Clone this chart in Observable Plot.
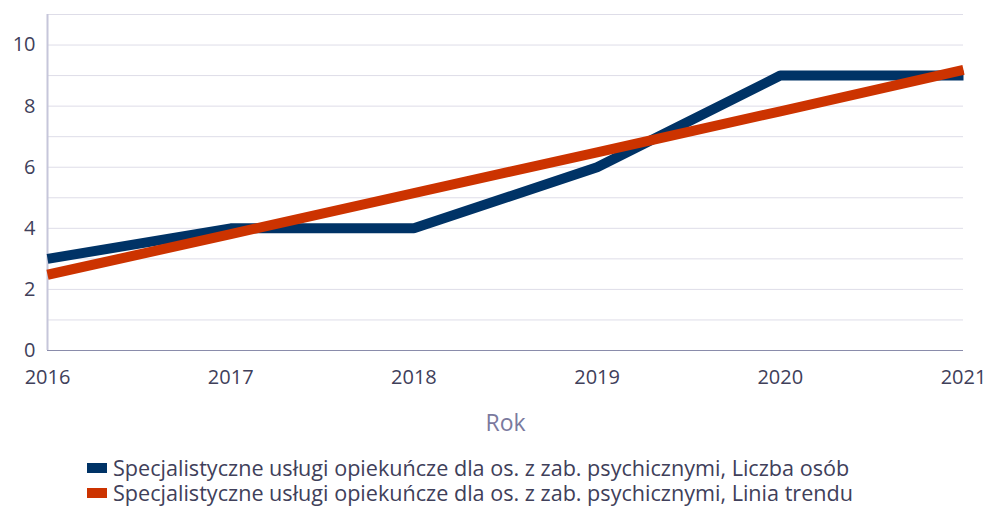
<!DOCTYPE html>
<html>
<head>
<meta charset="utf-8">
<script src="https://cdn.jsdelivr.net/npm/d3@7"></script>
<script src="https://cdn.jsdelivr.net/npm/@observablehq/plot@0.6"></script>
<style>
  body { margin: 0; background: #fff; font-family: "Open Sans", sans-serif; overflow: hidden; }
  #legend { position: absolute; left: 87px; top: 455px; font-size: 21.6px; color: #40405a; line-height: 25px; }
  .item { display: flex; align-items: center; white-space: nowrap; height: 25px; }
  .sw { width: 20px; height: 10px; margin-right: 6px; display: inline-block; }
</style>
</head>
<body>
<div id="chart"></div>
<div id="legend"></div>
<script>
const years = [2016, 2017, 2018, 2019, 2020, 2021];
const liczbaOsob = [3, 4, 4, 6, 9, 9];
const liniaTrendu = [2.48, 3.81, 5.15, 6.49, 7.83, 9.19];
const seriesNames = [
  "Specjalistyczne usługi opiekuńcze dla os. z zab. psychicznymi, Liczba osób",
  "Specjalistyczne usługi opiekuńcze dla os. z zab. psychicznymi, Linia trendu"
];
const colors = ["#003366", "#cc3300"];
const yTicks = [0, 2, 4, 6, 8, 10];
const yGrid = [0, 1, 2, 3, 4, 5, 6, 7, 8, 9, 10, 11];

const dataA = years.map((y, i) => ({year: y, value: liczbaOsob[i]}));
const dataB = years.map((y, i) => ({year: y, value: liniaTrendu[i]}));

const chart = Plot.plot({
  width: 985,
  height: 440,
  marginLeft: 47,
  marginRight: 22,
  marginTop: 14,
  marginBottom: 90,
  style: { fontFamily: "'Open Sans', sans-serif", fontSize: "20px", color: "#40405a", background: "#fff", overflow: "visible" },
  x: { domain: [2016, 2021] },
  y: { domain: [0, 11] },
  marks: [
    Plot.ruleY(yGrid, { stroke: "#dedde8", strokeWidth: 1 }),
    Plot.ruleX([2016], { stroke: "#c6c6da", strokeWidth: 2 }),
    Plot.ruleY([0], { stroke: "#8a8cab", strokeWidth: 1 }),
    Plot.axisY({ ticks: yTicks, tickSize: 0, tickPadding: 12, label: null, fill: "#40405a" }),
    Plot.axisX({ ticks: years, tickFormat: d => String(d), tickSize: 0, tickPadding: 19, fill: "#40405a",
      label: "Rok", labelAnchor: "center", labelArrow: "none", labelOffset: 80 }),
    Plot.line(dataA, { x: "year", y: "value", stroke: colors[0], strokeWidth: 10, strokeLinejoin: "miter", strokeLinecap: "butt" }),
    Plot.line(dataB, { x: "year", y: "value", stroke: colors[1], strokeWidth: 10, strokeLinecap: "butt" })
  ]
});
chart.querySelectorAll("g[aria-label='x-axis label'] text").forEach(t => { t.setAttribute("fill", "#7a7a9e"); t.style.fontSize = "23px"; });
document.getElementById("chart").appendChild(chart);

const legend = document.getElementById("legend");
seriesNames.forEach((n, i) => {
  const d = document.createElement("div");
  d.className = "item";
  d.innerHTML = `<span class="sw" style="background:${colors[i]}"></span><span>${n}</span>`;
  legend.appendChild(d);
});
</script>
</body>
</html>
